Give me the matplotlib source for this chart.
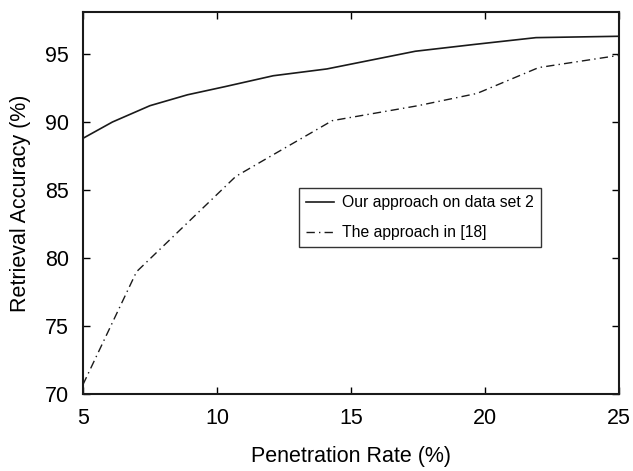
import matplotlib
matplotlib.use("Agg")
import matplotlib.pyplot as plt

plt.rcParams['font.family'] = ['Liberation Sans', 'DejaVu Sans']

# Data
x_ours = [5, 6.1, 7.5, 8.9, 10.3, 12.1, 14.1, 17.4, 19.6, 21.9, 25]
y_ours = [88.8, 90.0, 91.2, 92.0, 92.6, 93.4, 93.9, 95.2, 95.7, 96.2, 96.3]

x_ref = [5, 7.0, 10.7, 12.1, 14.3, 17.5, 19.7, 22.0, 25]
y_ref = [70.7, 79.0, 86.0, 87.6, 90.1, 91.2, 92.1, 94.0, 94.9]

labels = ["Our approach on data set 2", "The approach in [18]"]

fig, ax = plt.subplots(figsize=(6.33, 4.71), dpi=100)
fig.subplots_adjust(left=0.131, right=0.978, top=0.975, bottom=0.163)

ax.plot(x_ours, y_ours, color="#1a1a1a", lw=1.2, ls="-", label=labels[0])
ax.plot(x_ref, y_ref, color="#1a1a1a", lw=1.0, ls=(0, (6, 3, 1, 3)), label=labels[1])

ax.set_xlim(5, 25)
ax.set_ylim(70, 98.1)
ax.set_xticks([5, 10, 15, 20, 25])
ax.set_yticks([70, 75, 80, 85, 90, 95])
ax.tick_params(direction="in", top=True, right=True, labelsize=15.5, length=5, width=1, pad=10)
for s in ax.spines.values():
    s.set_linewidth(1.5)
    s.set_color("#1a1a1a")

ax.set_xlabel("Penetration Rate (%)", fontsize=15.5, labelpad=12)
ax.set_ylabel("Retrieval Accuracy (%)", fontsize=15.5, labelpad=10)

leg = ax.legend(loc="upper left", bbox_to_anchor=(0.403, 0.539), borderaxespad=0,
                fontsize=11.3, frameon=True, fancybox=False, edgecolor="#333333",
                framealpha=1, handlelength=1.8, handletextpad=0.5, borderpad=0.45,
                labelspacing=0.95)
leg.get_frame().set_linewidth(1.0)

fig.savefig("out.png", dpi=100)
